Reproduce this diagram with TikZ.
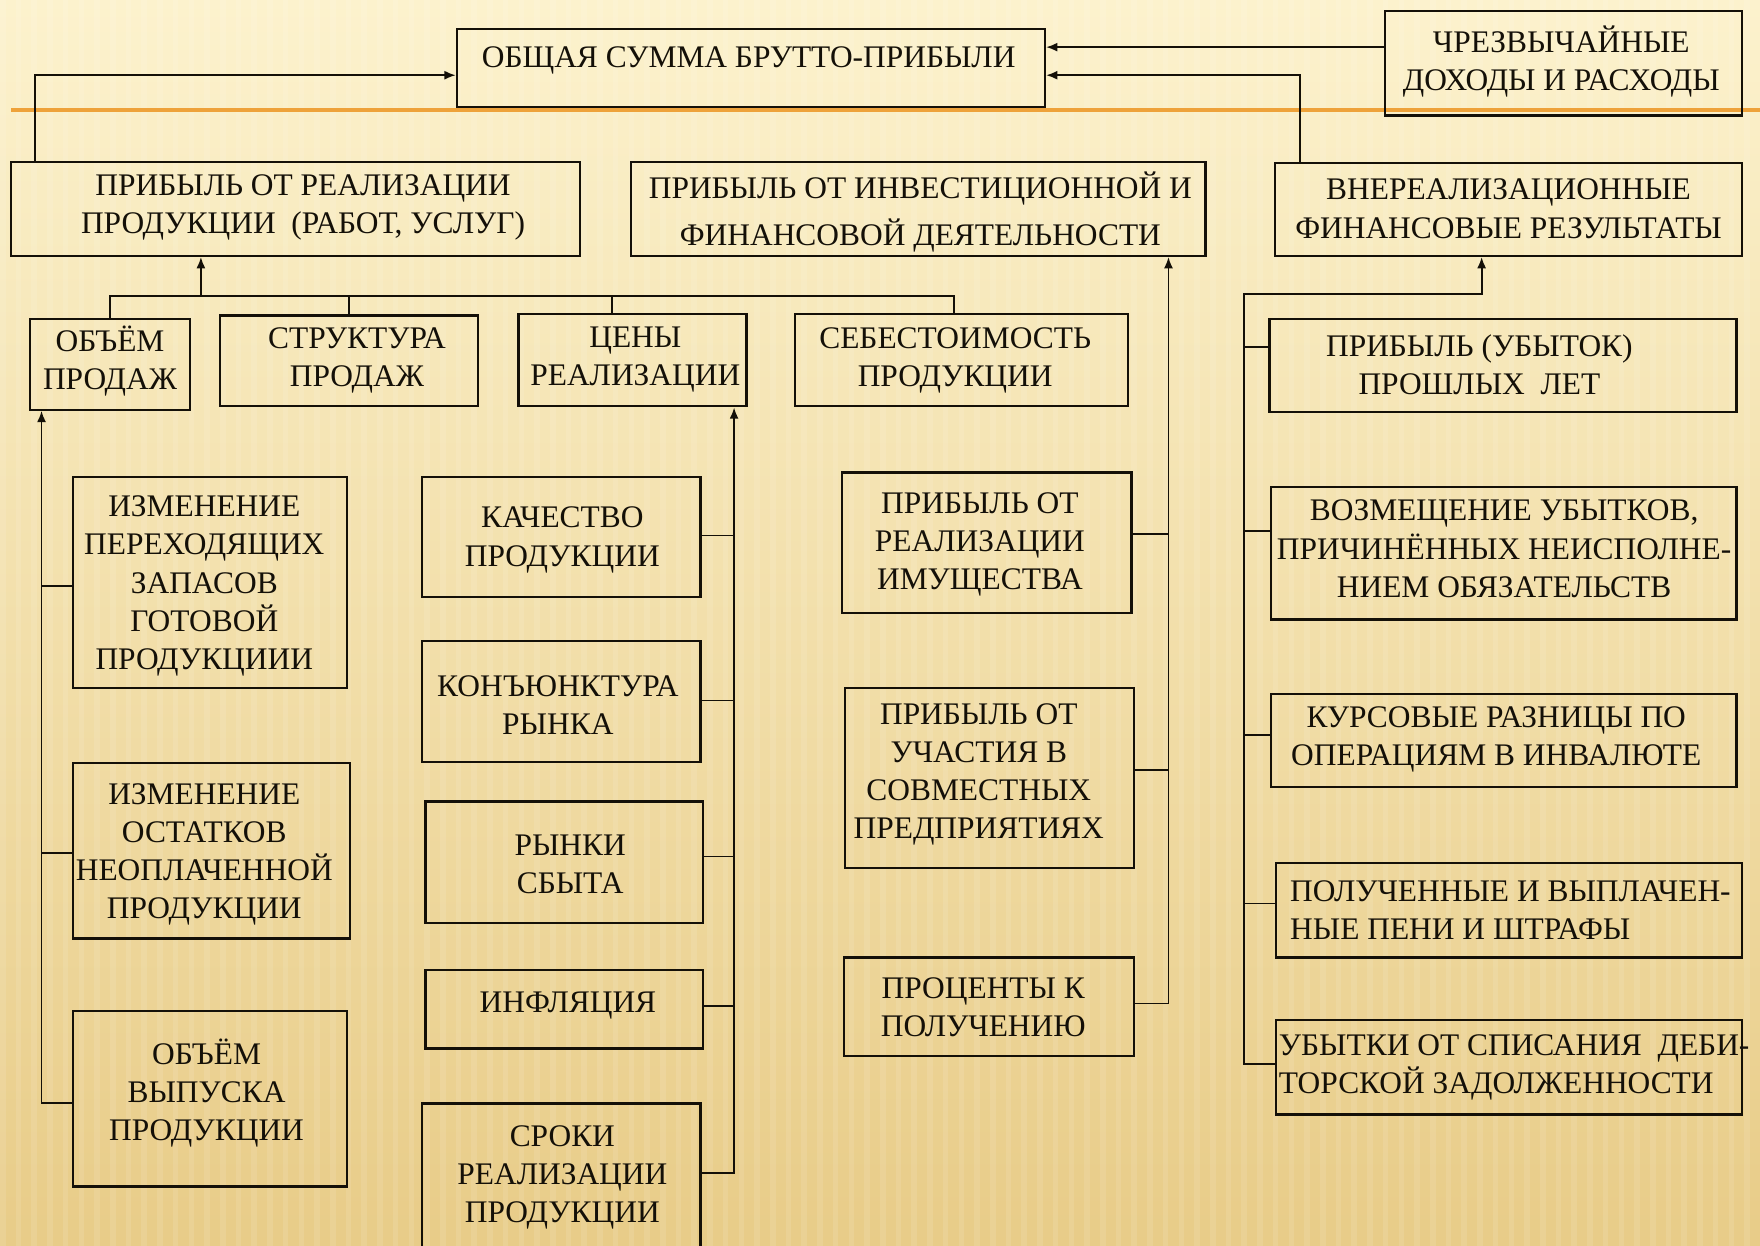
\documentclass[tikz,border=0pt]{standalone}
\usepackage{fontspec}
\setmainfont{Liberation Serif}
\usetikzlibrary{fit,arrows.meta}
\definecolor{bgtop}{RGB}{252,242,205}
\definecolor{bgmid}{RGB}{247,230,172}
\definecolor{bgbot}{RGB}{232,204,136}
\definecolor{orangeline}{RGB}{238,162,58}
\definecolor{ink}{RGB}{20,16,8}
\tikzset{
  box/.style={draw=ink, line width=1pt, inner sep=0pt},
  txt/.style={align=center, inner sep=0pt, font=\fontsize{14}{17}\selectfont, text=ink},
  ltxt/.style={align=left, inner sep=0pt, font=\fontsize{14}{17}\selectfont, text=ink, anchor=west},
  conn/.style={draw=ink, line width=0.8pt},
  arr/.style={conn, -{Latex[length=5pt,width=4pt]}},
}
\newcommand\bx[7]{\node[box, fit={(#2,#3) (#4,#5)}] (#1) {}; \node[txt] (#1t) at (#6) {#7};}
\begin{document}
\begin{tikzpicture}[x=0.5pt,y=-0.5pt]
\useasboundingbox (0,0) rectangle (1568,1110);
\shade[top color=bgtop, middle color=bgmid, bottom color=bgbot] (0,0) rectangle (1568,1110);
\foreach \i in {0,14,...,1568} \fill[white,opacity=0.10] (\i,0) rectangle ++(5,1110);
\draw[orangeline, line width=1.6pt] (10,98) -- (1568,98);

\bx{top}{407}{26}{931}{95}{667,54}{ОБЩАЯ СУММА БРУТТО-ПРИБЫЛИ}
\bx{chr}{1234}{10}{1552}{103}{1391,55}{ЧРЕЗВЫЧАЙНЫЕ\\ДОХОДЫ И РАСХОДЫ}
\bx{prz}{10}{144}{517}{228}{270,185}{ПРИБЫЛЬ ОТ РЕАЛИЗАЦИИ\\ПРОДУКЦИИ\ \ (РАБОТ, УСЛУГ)}
\bx{inv}{562}{144}{1074}{228}{820,189}{ПРИБЫЛЬ ОТ ИНВЕСТИЦИОННОЙ И\\[4pt]ФИНАНСОВОЙ ДЕЯТЕЛЬНОСТИ}
\bx{vnr}{1136}{145}{1552}{228}{1344,186}{ВНЕРЕАЛИЗАЦИОННЫЕ\\ФИНАНСОВЫЕ РЕЗУЛЬТАТЫ}
\bx{ob}{27}{284}{169}{365}{98,322}{ОБЪЁМ\\ПРОДАЖ}
\bx{str}{196}{281}{426}{362}{318,321}{СТРУКТУРА\\ПРОДАЖ}
\bx{cen}{462}{280}{665}{362}{566,320}{ЦЕНЫ\\РЕАЛИЗАЦИИ}
\bx{seb}{708}{280}{1005}{362}{851,321}{СЕБЕСТОИМОСТЬ\\ПРОДУКЦИИ}
\bx{pu}{1131}{284}{1547}{367}{1318,325}{ПРИБЫЛЬ (УБЫТОК)\\ПРОШЛЫХ\ \ ЛЕТ}
\bx{izz}{65}{425}{309}{613}{182,522}{ИЗМЕНЕНИЕ\\ПЕРЕХОДЯЩИХ\\ЗАПАСОВ\\ГОТОВОЙ\\ПРОДУКЦИИИ}
\bx{kach}{376}{425}{624}{532}{501,481}{КАЧЕСТВО\\ПРОДУКЦИИ}
\bx{kon}{376}{571}{624}{679}{497,628}{КОНЪЮНКТУРА\\РЫНКА}
\bx{pim}{750}{421}{1008}{546}{873,485}{ПРИБЫЛЬ ОТ\\РЕАЛИЗАЦИИ\\ИМУЩЕСТВА}
\bx{voz}{1132}{434}{1547}{552}{1340,489}{ВОЗМЕЩЕНИЕ УБЫТКОВ,\\ПРИЧИНЁННЫХ НЕИСПОЛНЕ-\\НИЕМ ОБЯЗАТЕЛЬСТВ}
\bx{ost}{65}{680}{312}{836}{182,761}{ИЗМЕНЕНИЕ\\ОСТАТКОВ\\НЕОПЛАЧЕННОЙ\\ПРОДУКЦИИ}
\bx{ryn}{379}{714}{626}{822}{508,770}{РЫНКИ\\СБЫТА}
\bx{sov}{753}{613}{1010}{773}{872,690}{ПРИБЫЛЬ ОТ\\УЧАСТИЯ В\\СОВМЕСТНЫХ\\ПРЕДПРИЯТИЯХ}
\bx{kur}{1132}{618}{1547}{701}{1333,659}{КУРСОВЫЕ РАЗНИЦЫ ПО\\ОПЕРАЦИЯМ В ИНВАЛЮТЕ}
\bx{inf}{379}{864}{626}{934}{506,896}{ИНФЛЯЦИЯ}
\bx{vyp}{65}{901}{309}{1057}{184,974}{ОБЪЁМ\\ВЫПУСКА\\ПРОДУКЦИИ}
\bx{proc}{752}{853}{1010}{941}{876,897}{ПРОЦЕНТЫ К\\ПОЛУЧЕНИЮ}
\node[box, fit={(1137,769) (1552,853)}] (pol) {};
\node[ltxt] (polt) at (1149,811) {ПОЛУЧЕННЫЕ И ВЫПЛАЧЕН-\\НЫЕ ПЕНИ И ШТРАФЫ};
\node[box, fit={(1137,909) (1552,993)}] (ub) {};
\node[ltxt] (ubt) at (1139,951) {УБЫТКИ ОТ СПИСАНИЯ\ \ ДЕБИ-\\ТОРСКОЙ ЗАДОЛЖЕННОСТИ};
\bx{srok}{376}{983}{624}{1115}{501,1049}{СРОКИ\\РЕАЛИЗАЦИИ\\ПРОДУКЦИИ}

% top connectors
\draw[arr] (prz.north -| 31,0) |- (top.west |- 0,67);
\draw[arr] (chr.west |- 0,42) -- (top.east |- 0,42);
\draw[arr] (vnr.north -| 1158,0) |- (top.east |- 0,67);

% hub under prz
\draw[conn] (ob.north -| 98,0) |- (850,264) -- (seb.north -| 850,0);
\draw[conn] (str.north -| 311,0) -- (311,264);
\draw[conn] (cen.north -| 545,0) -- (545,264);
\draw[arr] (179,264) -- (prz.south -| 179,0);

% left column
\draw[arr] (vyp.west |- 0,983) -| (ob.south -| 37,0);
\draw[conn] (37,522) -- (izz.west |- 0,522);
\draw[conn] (37,760) -- (ost.west |- 0,760);

% price column
\draw[arr] (srok.east |- 0,1045) -| (cen.south -| 654,0);
\draw[conn] (kach.east |- 0,477) -- (654,477);
\draw[conn] (kon.east |- 0,624) -- (654,624);
\draw[conn] (ryn.east |- 0,763) -- (654,763);
\draw[conn] (inf.east |- 0,896) -- (654,896);

% investment column
\draw[arr] (proc.east |- 0,894) -| (inv.south -| 1041,0);
\draw[conn] (pim.east |- 0,476) -- (1041,476);
\draw[conn] (sov.east |- 0,686) -- (1041,686);

% non-operating column
\draw[arr] (ub.west |- 0,948) -| (1108,262) -| (vnr.south -| 1320,0);
\draw[conn] (1108,309) -- (pu.west |- 0,309);
\draw[conn] (1108,473) -- (voz.west |- 0,473);
\draw[conn] (1108,655) -- (kur.west |- 0,655);
\draw[conn] (1108,805) -- (pol.west |- 0,805);
\end{tikzpicture}
\end{document}
